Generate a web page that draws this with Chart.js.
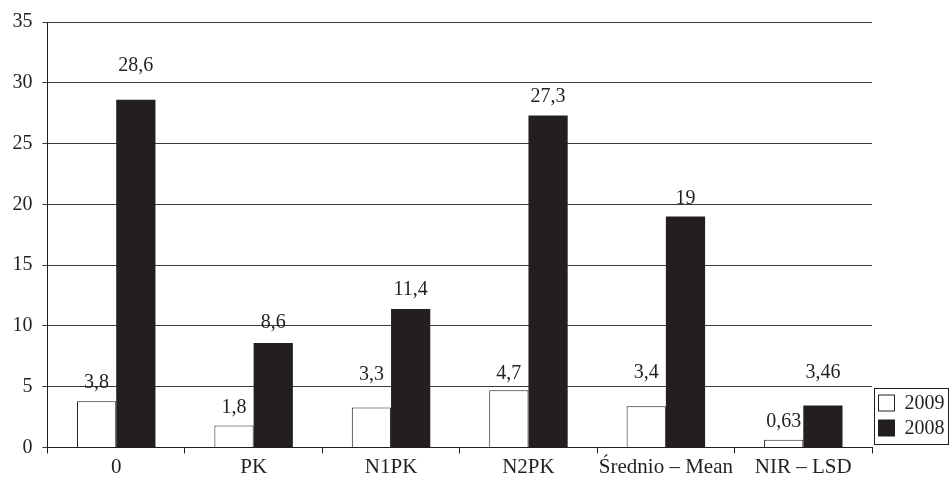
<!DOCTYPE html>
<html>
<head>
<meta charset="utf-8">
<script src="https://cdn.jsdelivr.net/npm/chart.js@4/dist/chart.umd.min.js"></script>
<style>
  html, body { margin: 0; padding: 0; background: #ffffff; }
  canvas { display: block; }
</style>
</head>
<body>
<canvas id="chart" width="950" height="479"></canvas>
<script>
// Treatments along the x axis
const categories = ['0', 'PK', 'N1PK', 'N2PK', 'Średnio – Mean', 'NIR – LSD'];

// Series values per year
const values2009 = [3.8, 1.8, 3.3, 4.7, 3.4, 0.63];
const values2008 = [28.6, 8.6, 11.4, 27.3, 19, 3.46];

// Value axis ticks
const yTicks = [0, 5, 10, 15, 20, 25, 30, 35];

const INK = '#231f20';
const FONT = '"Liberation Serif", "Times New Roman", serif';

// Distance (px) from the top of each bar to the centre of its value label
const labelLift = [
  [19, 18, 33, 17, 33, 18],
  [34, 20, 19, 19, 18, 33]
];

const valueLabels = {
  id: 'valueLabels',
  afterDatasetsDraw(chart) {
    const ctx = chart.ctx;
    ctx.save();
    ctx.font = '20px ' + FONT;
    ctx.fillStyle = INK;
    ctx.textAlign = 'center';
    ctx.textBaseline = 'middle';
    chart.data.datasets.forEach((ds, di) => {
      const meta = chart.getDatasetMeta(di);
      meta.data.forEach((bar, i) => {
        const txt = String(ds.data[i]).replace('.', ',');
        ctx.fillText(txt, bar.x, bar.y - labelLift[di][i]);
      });
    });
    ctx.restore();
  }
};

// Boxed legend at the lower right
const boxedLegend = {
  id: 'boxedLegend',
  afterDraw(chart) {
    const ctx = chart.ctx;
    const left = chart.chartArea.right + 2.5;
    const top = 388.5;
    const w = 74, h = 56;
    ctx.save();
    ctx.strokeStyle = INK;
    ctx.lineWidth = 1;
    ctx.strokeRect(left, top, w, h);
    ctx.font = '20px ' + FONT;
    ctx.textBaseline = 'middle';
    ctx.textAlign = 'left';
    chart.data.datasets.forEach((ds, i) => {
      const by = top + 6.5 + i * 25;
      ctx.fillStyle = ds.backgroundColor;
      ctx.fillRect(left + 4, by, 16, 16);
      ctx.strokeStyle = INK;
      ctx.strokeRect(left + 4, by, 16, 16);
      ctx.fillStyle = INK;
      ctx.fillText(ds.label, left + 30, by + 8.5);
    });
    ctx.restore();
  }
};

new Chart(document.getElementById('chart'), {
  type: 'bar',
  data: {
    labels: categories,
    datasets: [
      {
        label: '2009',
        data: values2009,
        backgroundColor: '#ffffff',
        borderColor: INK,
        borderWidth: 1
      },
      {
        label: '2008',
        data: values2008,
        backgroundColor: INK,
        borderColor: INK,
        borderWidth: 0
      }
    ]
  },
  options: {
    responsive: false,
    animation: false,
    devicePixelRatio: 1,
    layout: { padding: { left: 12.5, right: 78, top: 21, bottom: 0 } },
    plugins: {
      legend: { display: false },
      tooltip: { enabled: false }
    },
    datasets: {
      bar: { categoryPercentage: 0.571, barPercentage: 1 }
    },
    scales: {
      x: {
        afterFit(scale) { scale.height = 31.5; },
        grid: {
          offset: true,
          drawOnChartArea: false,
          drawTicks: true,
          tickLength: 6,
          color: INK
        },
        border: { display: true, color: INK, width: 1 },
        ticks: {
          color: INK,
          padding: 1,
          font: { family: FONT, size: 21 },
          maxRotation: 0,
          autoSkip: false
        }
      },
      y: {
        min: 0,
        max: 35,
        afterFit(scale) { scale.width = 35; },
        afterBuildTicks(scale) { scale.ticks = yTicks.map(v => ({ value: v })); },
        grid: {
          color: '#3a3a3a',
          lineWidth: 1,
          drawTicks: true,
          tickLength: 5
        },
        border: { display: true, color: INK, width: 1 },
        ticks: {
          color: INK,
          padding: 10,
          font: { family: FONT, size: 20 }
        }
      }
    }
  },
  plugins: [valueLabels, boxedLegend]
});
</script>
</body>
</html>
